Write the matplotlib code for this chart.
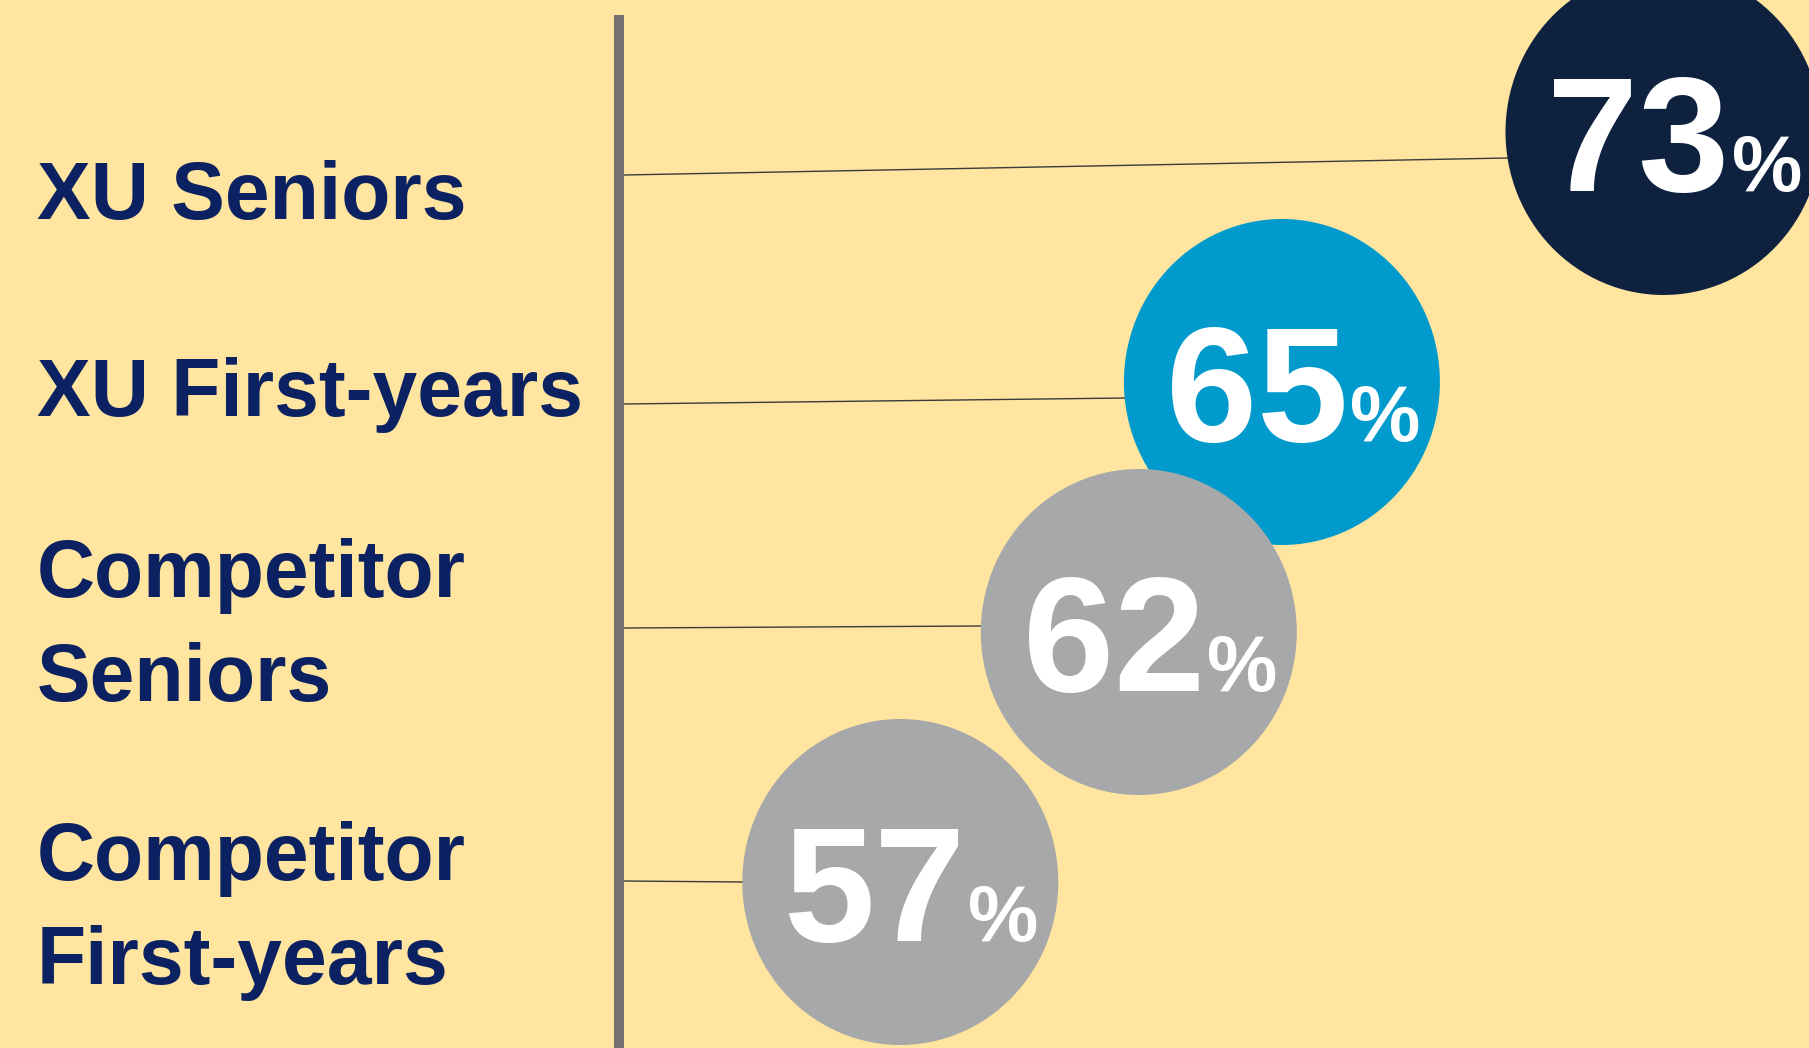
import matplotlib
matplotlib.use("Agg")
import matplotlib.pyplot as plt
from matplotlib.patches import Ellipse

# ---------------- data ----------------
categories = ["XU Seniors", "XU First-years", "Competitor\nSeniors", "Competitor\nFirst-years"]
values = [73, 65, 62, 57]
value_labels = ["73", "65", "62", "57"]
circle_colors = ["#0E2240", "#009BCC", "#A7A8AA", "#A7A8AA"]

# ---------------- layout ----------------
W, H = 1809, 1048
BG = "#FFE59F"
NAVY = "#0B2161"
PX_PER_PT = 47.7          # horizontal pixels per percentage point
X0 = -1818.6              # pixel position of 0 %
ROW0, ROW_STEP = 132, 250  # circle row centres (pixels from top)
RX, RY = 158, 163          # circle radii in pixels
label_baselines = [219, 416, 701, 984]   # baseline of last line of each label
conn_start_y = [175, 404, 628, 881]
conn_end_y = [158, 398, 626, 882]
BAR_X = 619

label_family = ["Liberation Sans", "DejaVu Sans"]
num_family = ["Liberation Sans", "DejaVu Sans"]

fig = plt.figure(figsize=(W / 100, H / 100), dpi=100)
fig.patch.set_facecolor(BG)
ax = fig.add_axes([0, 0, 1, 1])
ax.set_facecolor(BG)
ax.set_xlim((0 - X0) / PX_PER_PT, (W - X0) / PX_PER_PT)
ax.set_ylim(H, 0)
ax.axis("off")


def px2x(px):
    return (px - X0) / PX_PER_PT


def dpx(d):
    return d / PX_PER_PT


# vertical divider bar
ax.plot([px2x(BAR_X), px2x(BAR_X)], [15, H], color="#767171", lw=7.2,
        solid_capstyle="butt", zorder=2)

for i, (cat, v, lab, col) in enumerate(zip(categories, values, value_labels, circle_colors)):
    cy = ROW0 + ROW_STEP * i
    # connector line from divider to circle
    ax.plot([px2x(BAR_X + 5), v - dpx(RX) + dpx(2)], [conn_start_y[i], conn_end_y[i]],
            color="#3A3A3A", lw=1.0, zorder=1)
    ax.add_patch(Ellipse((v, cy), width=dpx(2 * RX), height=2 * RY,
                         facecolor=col, edgecolor="none", zorder=3))
    ax.text(v + dpx(66), cy + 59, lab, ha="right", va="baseline",
            fontsize=118, fontweight="bold", color="white", family=num_family, zorder=4)
    ax.text(v + dpx(68), cy + 59, "%", ha="left", va="baseline",
            fontsize=57, fontweight="bold", color="white", family=num_family, zorder=4)
    ax.text(px2x(37), label_baselines[i], cat, ha="left", va="baseline",
            fontsize=58, fontweight="bold", color=NAVY, family=label_family,
            linespacing=1.48, zorder=4)

fig.savefig("out.png", dpi=100, facecolor=BG)
